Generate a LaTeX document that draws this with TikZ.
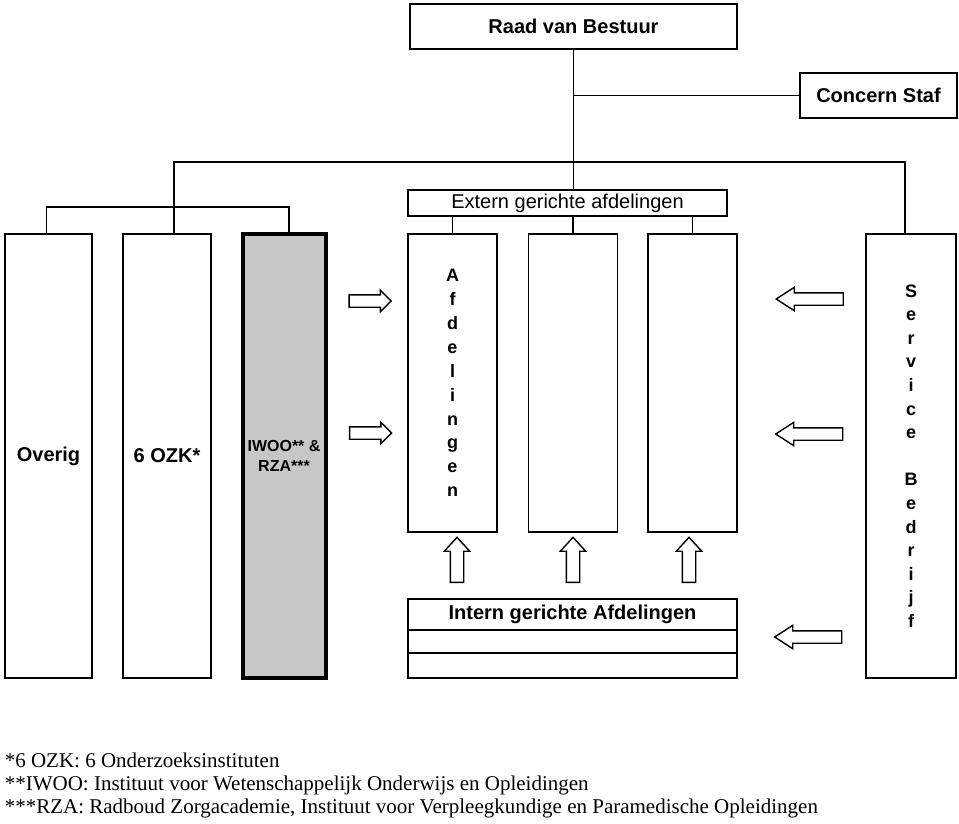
\documentclass[tikz,border=0pt]{standalone}
\usepackage{fontspec}
\setmainfont{Liberation Serif}
\setsansfont{Liberation Sans}
\usetikzlibrary{positioning,shapes.arrows}

\begin{document}
\begin{tikzpicture}[x=1pt,y=-1pt,line width=1.6pt,
    box/.style={draw,rectangle,inner sep=0pt,outer sep=0pt,align=center,
      font=\sffamily\bfseries\fontsize{20}{24}\selectfont},
    column/.style={box,minimum height=444pt},
    afd/.style={box,minimum width=89pt,minimum height=298pt,
      font=\sffamily\bfseries\fontsize{18}{23.9}\selectfont},
    blockarrow/.style={draw,fill=white,single arrow,line width=1.4pt,inner xsep=0pt},
    pushright/.style={blockarrow,minimum height=42pt,inner ysep=5.5pt,
      single arrow head extend=4.5pt,single arrow tip angle=90},
    pushleft/.style={blockarrow,rotate=180,minimum height=67pt,inner ysep=5.5pt,
      single arrow head extend=5.5pt,single arrow tip angle=66},
    pushup/.style={blockarrow,rotate=90,minimum height=45pt,inner ysep=6pt,
      single arrow head extend=6pt,single arrow tip angle=85},
    note/.style={anchor=base west,inner sep=0pt,font=\fontsize{21}{23}\selectfont}]
  \useasboundingbox (0,0) rectangle (959,823);

  % top of the organisation
  \node[box,minimum width=327pt,minimum height=45pt] (raad)   at (573.5,26.5) {Raad van Bestuur};
  \node[box,minimum width=157pt,minimum height=45pt] (staf)   at (878.5,95.5) {Concern Staf};
  \node[box,minimum width=319pt,minimum height=26pt,font=\sffamily\fontsize{20}{24}\selectfont]
                                                     (extern) at (567.5,203)  {Extern gerichte afdelingen};

  % columns
  \node[column,minimum width=87pt] (overig)  at (48.5,456) {Overig};
  \node[column,minimum width=88pt] (ozk)     at (167,456)  {6 OZK*};
  \node[column,minimum width=83pt,line width=4pt,fill=black!22,
        font=\sffamily\bfseries\fontsize{16}{20}\selectfont] (iwoo) at (284,456) {IWOO** \&\\RZA***};
  \node[afd] (afdA) at (452.5,383) {A\\f\\d\\e\\l\\i\\n\\g\\e\\n};
  \node[afd] (afdB) at (573,383)   {};
  \node[afd] (afdC) at (692.5,383) {};
  \node[column,minimum width=90pt,font=\sffamily\bfseries\fontsize{18}{23.6}\selectfont]
        (service) at (911,456) {S\\e\\r\\v\\i\\c\\e\\[23.6pt]B\\e\\d\\r\\i\\j\\f};

  % intern gerichte afdelingen
  \node[box,minimum width=329pt,minimum height=31pt] (intern) at (572.5,614.5) {Intern gerichte Afdelingen};
  \node[box,minimum width=329pt,minimum height=23pt] (internB) [below=0pt of intern]  {};
  \node[box,minimum width=329pt,minimum height=25pt] (internC) [below=0pt of internB] {};

  % block arrows
  \node[pushright] (inA) at (367,301)   {};
  \node[pushright] (inB) at (367.5,433) {};
  \node[pushleft]  (svA) at (814.5,299) {};
  \node[pushleft]  (svB) at (814,434)   {};
  \node[pushleft]  (svC) at (813,637)   {};
  \node[pushup]    (upA) at (457,563.5) {};
  \node[pushup]    (upB) at (573,563.5) {};
  \node[pushup]    (upC) at (689,563.5) {};

  % lines
  \coordinate (top) at (573.5,162);
  \draw (raad.south) -- (raad.south |- extern.north);
  \draw (raad.south |- staf.west) -- (staf.west);
  \draw ([xshift=7pt]ozk.north) |- (top) -| ([xshift=-6pt]service.north);
  \draw ([xshift=-2pt]overig.north) -- ++(0,-27) -| ([xshift=5pt]iwoo.north);
  \foreach \n in {afdA,afdB,afdC}
    \draw (\n.north) -- (\n.north |- extern.south);

  % footnotes
  \node[note] (noteA) at (4,767) {*6 OZK: 6 Onderzoeksinstituten};
  \node[note] (noteB) at (4,790) {**IWOO: Instituut voor Wetenschappelijk Onderwijs en Opleidingen};
  \node[note] (noteC) at (4,813) {***RZA: Radboud Zorgacademie, Instituut voor Verpleegkundige en Paramedische Opleidingen};
\end{tikzpicture}
\end{document}
